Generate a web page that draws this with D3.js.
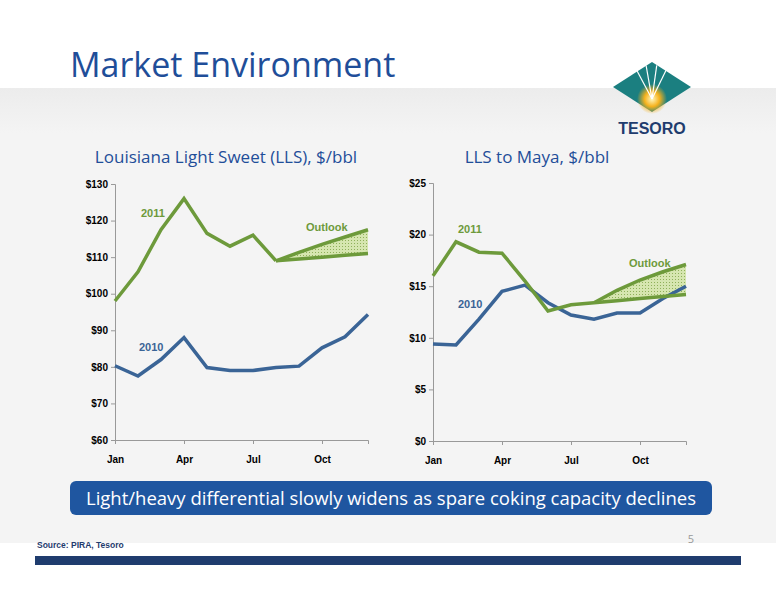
<!DOCTYPE html><html><head><meta charset="utf-8">
<script src="https://cdn.jsdelivr.net/npm/d3@7"></script>
<style>body{margin:0;background:#fff}svg{display:block}</style></head><body>
<script>
const months=["Jan","Feb","Mar","Apr","May","Jun","Jul","Aug","Sep","Oct","Nov","Dec"];
const tickMonths=["Jan","Apr","Jul","Oct"];
const lls2011=[98,106,117.5,126,116.5,113,116,109];
const lls2010=[80.3,77.5,82,88,79.8,79,79,79.8,80.2,85.2,88.2,94.3];
const llsOutHigh=[109,111.3,113.5,115.5,117.5];
const llsOutLow=[109,109.5,110,110.5,111];
const maya2011=[16,19.3,18.3,18.2,15.5,12.6,13.2,13.4];
const maya2010=[9.4,9.3,11.8,14.5,15.1,13.4,12.2,11.8,12.4,12.4,13.8,15.0];
const mayaOutHigh=[13.4,14.6,15.6,16.4,17.1];
const mayaOutLow=[13.4,13.6,13.8,14.0,14.2];
const outMonths=["Aug","Sep","Oct","Nov","Dec"];

const svg=d3.select("body").append("svg").attr("width",776).attr("height",600);
const defs=svg.append("defs");
const p=defs.append("pattern").attr("id","dots").attr("width",3).attr("height",3).attr("patternUnits","userSpaceOnUse");
p.append("rect").attr("width",3).attr("height",3).attr("fill","#d6e6b0");
p.append("rect").attr("width",1).attr("height",1).attr("fill","#8fb05a");
const lg=defs.append("linearGradient").attr("id","bg").attr("x1",0).attr("y1",0).attr("x2",0).attr("y2",1);
lg.append("stop").attr("offset",0).attr("stop-color","#ececec");
lg.append("stop").attr("offset",0.1).attr("stop-color","#f4f4f4");
svg.append("rect").attr("x",0).attr("y",88).attr("width",776).attr("height",455).attr("fill","url(#bg)");
svg.append("rect").attr("x",35).attr("y",556).attr("width",706).attr("height",9).attr("fill","#1f3c6e");
svg.append("text").attr("x",70).attr("y",77).text("Market Environment").attr("font-family","Open Sans, sans-serif").attr("font-size",34).attr("fill","#1f4e99");
const lgx=652,lgy=87;
svg.append("path").attr("d",`M${lgx},${lgy-25} L${lgx+39},${lgy} L${lgx},${lgy+25} L${lgx-39},${lgy}Z`).attr("fill","#1b7f80");
const rg=defs.append("radialGradient").attr("id","sun");
rg.append("stop").attr("offset",0).attr("stop-color","#fff8c0");
rg.append("stop").attr("offset",0.5).attr("stop-color","#f6b21d");
rg.append("stop").attr("offset",1).attr("stop-color","#f6b21d").attr("stop-opacity",0);
svg.append("circle").attr("cx",lgx).attr("cy",lgy+12).attr("r",15).attr("fill","url(#sun)");
[-28,-10,8,26].forEach(a=>{const r=a*Math.PI/180;svg.append("line").attr("x1",lgx).attr("y1",lgy+12).attr("x2",lgx+Math.sin(r)*34).attr("y2",lgy+12-Math.cos(r)*34).attr("stroke","#fff").attr("stroke-width",1.2);});
svg.append("text").attr("x",lgx).attr("y",134).attr("text-anchor","middle").text("TESORO").attr("font-family","Liberation Sans, sans-serif").attr("font-weight","bold").attr("font-size",16).attr("fill","#1f3c6e");

function chart(o){
  const x=d3.scalePoint().domain(months).range([o.x0,o.x1]);
  const y=d3.scaleLinear().domain(o.dom).range([o.y1,o.y0]);
  const g=svg.append("g");
  g.append("text").attr("x",o.tx).attr("y",163).attr("text-anchor","middle").text(o.title).attr("font-family","Open Sans, sans-serif").attr("font-size",17).attr("fill","#1f4e99");
  const ya=g.append("g").attr("transform",`translate(${o.x0},0)`).call(d3.axisLeft(y).tickValues(o.ticks).tickFormat(d=>"$"+d).tickSize(4));
  const xa=g.append("g").attr("transform",`translate(0,${o.y1})`).call(d3.axisBottom(x).tickValues(tickMonths).tickSize(4));
  [ya,xa].forEach(a=>{a.selectAll("path,line").attr("stroke","#999");a.selectAll("text").attr("font-family","Liberation Sans, sans-serif").attr("font-weight","bold").attr("font-size",10).attr("fill","#000");});
  xa.selectAll("text").attr("dy","1.6em");
  const ln=d3.line().x((d,i)=>x(months[i])).y(d=>y(d));
  const lo=d3.line().x((d,i)=>x(outMonths[i])).y(d=>y(d));
  const area=d3.area().x((d,i)=>x(outMonths[i])).y0((d,i)=>y(o.low[i])).y1(d=>y(d));
  g.append("path").attr("d",area(o.high)).attr("fill","url(#dots)");
  g.append("path").attr("d",ln(o.s10)).attr("fill","none").attr("stroke","#3a6496").attr("stroke-width",3.5);
  g.append("path").attr("d",ln(o.s11)).attr("fill","none").attr("stroke","#6d9a3b").attr("stroke-width",3.5);
  [o.high,o.low].forEach(s=>g.append("path").attr("d",lo(s)).attr("fill","none").attr("stroke","#6d9a3b").attr("stroke-width",3.5));
  const lab=(t,px,py,c)=>g.append("text").attr("x",px).attr("y",py).text(t).attr("font-family","Liberation Sans, sans-serif").attr("font-weight","bold").attr("font-size",11).attr("fill",c);
  o.labels.forEach(l=>lab(...l));
}
chart({x0:115,x1:368,y0:184,y1:440,dom:[60,130],ticks:[60,70,80,90,100,110,120,130],title:"Louisiana Light Sweet (LLS), $/bbl",tx:226,
  s11:lls2011,s10:lls2010,high:llsOutHigh,low:llsOutLow,
  labels:[["2011",141,217,"#6d9a3b"],["2010",139,351,"#3a6496"],["Outlook",306,231,"#6d9a3b"]]});
chart({x0:433,x1:686,y0:183,y1:441,dom:[0,25],ticks:[0,5,10,15,20,25],title:"LLS to Maya, $/bbl",tx:537,
  s11:maya2011,s10:maya2010,high:mayaOutHigh,low:mayaOutLow,
  labels:[["2011",458,233,"#6d9a3b"],["2010",458,308,"#3a6496"],["Outlook",629,267,"#6d9a3b"]]});

svg.append("rect").attr("x",70).attr("y",481).attr("width",642).attr("height",34).attr("rx",6).attr("fill","#1f56a0");
svg.append("text").attr("x",391).attr("y",505).attr("text-anchor","middle").text("Light/heavy differential slowly widens as spare coking capacity declines").attr("font-family","Open Sans, sans-serif").attr("font-size",18.5).attr("fill","#fff");
svg.append("text").attr("x",37).attr("y",548).text("Source: PIRA, Tesoro").attr("font-family","Liberation Sans, sans-serif").attr("font-weight","bold").attr("font-size",8.5).attr("fill","#1f3c6e");
svg.append("text").attr("x",694).attr("y",543).attr("text-anchor","end").text("5").attr("font-family","Open Sans, sans-serif").attr("font-size",11).attr("fill","#999");
</script></body></html>
